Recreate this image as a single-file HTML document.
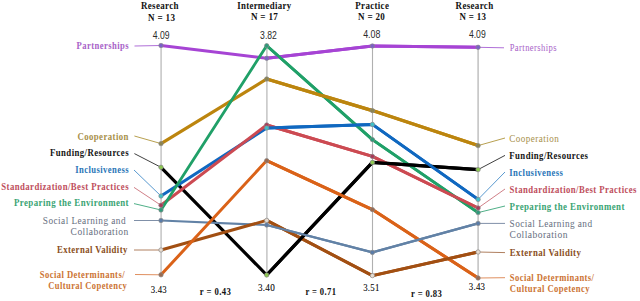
<!DOCTYPE html><html><head><meta charset="utf-8"><style>
html,body{margin:0;padding:0;background:#fff;width:640px;height:301px;overflow:hidden}
svg{display:block}
.sf{font-family:"Liberation Serif",serif}
.ss{font-family:"Liberation Sans",sans-serif}
</style></head><body>
<svg width="640" height="301" viewBox="0 0 640 301">
<rect width="640" height="301" fill="#fff"/>
<line x1="161.1" y1="45.5" x2="161.1" y2="274.8" stroke="#C4C4C4" stroke-width="1.5"/>
<line x1="266.9" y1="45.7" x2="266.9" y2="275" stroke="#C4C4C4" stroke-width="1.5"/>
<line x1="372.5" y1="46" x2="372.5" y2="275.6" stroke="#B0B0B0" stroke-width="1.1"/>
<line x1="478.1" y1="47.3" x2="478.1" y2="278" stroke="#C0C0C0" stroke-width="1.5"/>
<line x1="134.5" y1="46" x2="161" y2="45.5" stroke="#B070D8" stroke-width="1"/>
<line x1="478.1" y1="47.3" x2="504" y2="47.8" stroke="#B070D8" stroke-width="1"/>
<line x1="134.4" y1="136" x2="161" y2="143.6" stroke="#B8A050" stroke-width="1"/>
<line x1="478.1" y1="145.6" x2="505" y2="138" stroke="#B8A050" stroke-width="1"/>
<line x1="134.4" y1="153.6" x2="161" y2="167.3" stroke="#404040" stroke-width="1"/>
<line x1="478.1" y1="169.6" x2="505" y2="155.4" stroke="#404040" stroke-width="1"/>
<line x1="134" y1="187.4" x2="161" y2="205.3" stroke="#D08088" stroke-width="1"/>
<line x1="478.1" y1="208" x2="505" y2="189" stroke="#D08088" stroke-width="1"/>
<line x1="134" y1="170" x2="161" y2="196" stroke="#5A9AD0" stroke-width="1"/>
<line x1="478.1" y1="199.4" x2="505" y2="172" stroke="#5A9AD0" stroke-width="1"/>
<line x1="134" y1="203.6" x2="161" y2="210" stroke="#50B088" stroke-width="1"/>
<line x1="478.1" y1="212.6" x2="505" y2="206" stroke="#50B088" stroke-width="1"/>
<line x1="134" y1="220.5" x2="161" y2="220.5" stroke="#8090A8" stroke-width="1"/>
<line x1="478.1" y1="223.4" x2="505" y2="223.4" stroke="#8090A8" stroke-width="1"/>
<line x1="134" y1="250" x2="161" y2="250" stroke="#B08060" stroke-width="1"/>
<line x1="478.1" y1="252" x2="505" y2="252.6" stroke="#B08060" stroke-width="1"/>
<line x1="135" y1="274.5" x2="161" y2="274.8" stroke="#E09060" stroke-width="1"/>
<line x1="478.1" y1="278" x2="505" y2="277.7" stroke="#E09060" stroke-width="1"/>
<polyline points="161,45.5 266.7,58.3 372.4,46 478.1,47.3" fill="none" stroke="#A644D4" stroke-width="3" stroke-linejoin="miter" stroke-miterlimit="10"/>
<polyline points="161,143.6 266.7,79 372.4,110.6 478.1,145.6" fill="none" stroke="#BC850E" stroke-width="3.2" stroke-linejoin="miter" stroke-miterlimit="10"/>
<polyline points="161,167.3 266.7,275 372.4,162.4 478.1,169.6" fill="none" stroke="#000000" stroke-width="3.2" stroke-linejoin="miter" stroke-miterlimit="10"/>
<polyline points="161,196 266.7,128 372.4,124.4 478.1,199.4" fill="none" stroke="#1068C0" stroke-width="3" stroke-linejoin="miter" stroke-miterlimit="10"/>
<polyline points="161,205.3 266.7,125 372.4,156.4 478.1,208" fill="none" stroke="#CC4A52" stroke-width="3" stroke-linejoin="miter" stroke-miterlimit="10"/>
<polyline points="161,210 266.7,45.7 372.4,139.6 478.1,212.6" fill="none" stroke="#20A068" stroke-width="2.8" stroke-linejoin="miter" stroke-miterlimit="10"/>
<polyline points="161,220.5 266.7,225 372.4,252.4 478.1,223.4" fill="none" stroke="#6282A6" stroke-width="2.2" stroke-linejoin="miter" stroke-miterlimit="10"/>
<polyline points="161,250 266.7,220.4 372.4,275.6 478.1,252" fill="none" stroke="#A24F12" stroke-width="3" stroke-linejoin="miter" stroke-miterlimit="10"/>
<polyline points="161,274.8 266.7,160.6 372.4,209.6 478.1,278" fill="none" stroke="#DA6218" stroke-width="3" stroke-linejoin="miter" stroke-miterlimit="10"/>
<line x1="266.7" y1="58.3" x2="372.4" y2="46" stroke="#A644D4" stroke-width="3"/>
<line x1="266.7" y1="45.7" x2="372.4" y2="139.6" stroke="#20A068" stroke-width="2.8"/>
<line x1="266.7" y1="79" x2="372.4" y2="110.6" stroke="#BC850E" stroke-width="3.2"/>
<line x1="266.7" y1="125" x2="372.4" y2="156.4" stroke="#CC4A52" stroke-width="3"/>
<line x1="266.7" y1="128" x2="372.4" y2="124.4" stroke="#1068C0" stroke-width="3"/>
<line x1="266.7" y1="220.4" x2="372.4" y2="275.6" stroke="#A24F12" stroke-width="3"/>
<line x1="266.7" y1="275" x2="372.4" y2="162.4" stroke="#000000" stroke-width="3.2"/>
<line x1="266.7" y1="225" x2="372.4" y2="252.4" stroke="#6282A6" stroke-width="2.2"/>
<line x1="266.7" y1="160.6" x2="372.4" y2="209.6" stroke="#DA6218" stroke-width="3"/>
<line x1="372.4" y1="139.6" x2="478.1" y2="212.6" stroke="#20A068" stroke-width="2.8"/>
<line x1="372.4" y1="156.4" x2="478.1" y2="208" stroke="#CC4A52" stroke-width="3"/>
<line x1="372.4" y1="162.4" x2="478.1" y2="169.6" stroke="#000000" stroke-width="3.2"/>
<line x1="372.4" y1="124.4" x2="478.1" y2="199.4" stroke="#1068C0" stroke-width="3"/>
<line x1="372.4" y1="209.6" x2="478.1" y2="278" stroke="#DA6218" stroke-width="3"/>
<line x1="372.4" y1="252.4" x2="478.1" y2="223.4" stroke="#6282A6" stroke-width="2.2"/>
<line x1="372.4" y1="275.6" x2="478.1" y2="252" stroke="#A24F12" stroke-width="3"/>
<line x1="372.4" y1="110.6" x2="478.1" y2="145.6" stroke="#BC850E" stroke-width="3.2"/>
<line x1="372.4" y1="46" x2="478.1" y2="47.3" stroke="#A644D4" stroke-width="3"/>
<circle cx="161" cy="45.5" r="2.2" fill="#7B5FC8" stroke="#8a8a8a" stroke-width="0.7"/>
<circle cx="266.7" cy="58.3" r="2.2" fill="#7B5FC8" stroke="#8a8a8a" stroke-width="0.7"/>
<circle cx="372.4" cy="46" r="2.2" fill="#7B5FC8" stroke="#8a8a8a" stroke-width="0.7"/>
<circle cx="478.1" cy="47.3" r="2.2" fill="#7B5FC8" stroke="#8a8a8a" stroke-width="0.7"/>
<circle cx="161" cy="143.6" r="2.2" fill="#8C8450" stroke="#8a8a8a" stroke-width="0.7"/>
<circle cx="266.7" cy="79" r="2.2" fill="#8C8450" stroke="#8a8a8a" stroke-width="0.7"/>
<circle cx="372.4" cy="110.6" r="2.2" fill="#8C8450" stroke="#8a8a8a" stroke-width="0.7"/>
<circle cx="478.1" cy="145.6" r="2.2" fill="#8C8450" stroke="#8a8a8a" stroke-width="0.7"/>
<circle cx="161" cy="167.3" r="2.2" fill="#8CC850" stroke="#8a8a8a" stroke-width="0.7"/>
<circle cx="266.7" cy="275" r="2.2" fill="#8CC850" stroke="#8a8a8a" stroke-width="0.7"/>
<circle cx="372.4" cy="162.4" r="2.2" fill="#8CC850" stroke="#8a8a8a" stroke-width="0.7"/>
<circle cx="478.1" cy="169.6" r="2.2" fill="#8CC850" stroke="#8a8a8a" stroke-width="0.7"/>
<circle cx="161" cy="205.3" r="2.2" fill="#A83A58" stroke="#8a8a8a" stroke-width="0.7"/>
<circle cx="266.7" cy="125" r="2.2" fill="#A83A58" stroke="#8a8a8a" stroke-width="0.7"/>
<circle cx="372.4" cy="156.4" r="2.2" fill="#A83A58" stroke="#8a8a8a" stroke-width="0.7"/>
<circle cx="478.1" cy="208" r="2.2" fill="#A83A58" stroke="#8a8a8a" stroke-width="0.7"/>
<circle cx="161" cy="196" r="2.2" fill="#40C0C8" stroke="#8a8a8a" stroke-width="0.7"/>
<circle cx="266.7" cy="128" r="2.2" fill="#40C0C8" stroke="#8a8a8a" stroke-width="0.7"/>
<circle cx="372.4" cy="124.4" r="2.2" fill="#40C0C8" stroke="#8a8a8a" stroke-width="0.7"/>
<circle cx="478.1" cy="199.4" r="2.2" fill="#40C0C8" stroke="#8a8a8a" stroke-width="0.7"/>
<circle cx="161" cy="210" r="2.2" fill="#2E9A7A" stroke="#8a8a8a" stroke-width="0.7"/>
<circle cx="266.7" cy="45.7" r="2.2" fill="#2E9A7A" stroke="#8a8a8a" stroke-width="0.7"/>
<circle cx="372.4" cy="139.6" r="2.2" fill="#2E9A7A" stroke="#8a8a8a" stroke-width="0.7"/>
<circle cx="478.1" cy="212.6" r="2.2" fill="#2E9A7A" stroke="#8a8a8a" stroke-width="0.7"/>
<circle cx="161" cy="220.5" r="2.2" fill="#5A7CA8" stroke="#8a8a8a" stroke-width="0.7"/>
<circle cx="266.7" cy="225" r="2.2" fill="#5A7CA8" stroke="#8a8a8a" stroke-width="0.7"/>
<circle cx="372.4" cy="252.4" r="2.2" fill="#5A7CA8" stroke="#8a8a8a" stroke-width="0.7"/>
<circle cx="478.1" cy="223.4" r="2.2" fill="#5A7CA8" stroke="#8a8a8a" stroke-width="0.7"/>
<circle cx="161" cy="250" r="2.2" fill="#E8DCD0" stroke="#8a8a8a" stroke-width="0.7"/>
<circle cx="266.7" cy="220.4" r="2.2" fill="#E8DCD0" stroke="#8a8a8a" stroke-width="0.7"/>
<circle cx="372.4" cy="275.6" r="2.2" fill="#E8DCD0" stroke="#8a8a8a" stroke-width="0.7"/>
<circle cx="478.1" cy="252" r="2.2" fill="#E8DCD0" stroke="#8a8a8a" stroke-width="0.7"/>
<circle cx="161" cy="274.8" r="2.2" fill="#9A6A50" stroke="#8a8a8a" stroke-width="0.7"/>
<circle cx="266.7" cy="160.6" r="2.2" fill="#9A6A50" stroke="#8a8a8a" stroke-width="0.7"/>
<circle cx="372.4" cy="209.6" r="2.2" fill="#9A6A50" stroke="#8a8a8a" stroke-width="0.7"/>
<circle cx="478.1" cy="278" r="2.2" fill="#9A6A50" stroke="#8a8a8a" stroke-width="0.7"/>
<text class="sf" x="76.6" y="48.5" font-size="10.3" font-weight="bold" fill="#A862C8" text-anchor="start" letter-spacing="0.5" textLength="52.4" lengthAdjust="spacingAndGlyphs">Partnerships</text>
<text class="sf" x="77.4" y="139.5" font-size="10.3" font-weight="bold" fill="#A8904A" text-anchor="start" letter-spacing="0.5" textLength="51.5" lengthAdjust="spacingAndGlyphs">Cooperation</text>
<text class="sf" x="50" y="156.1" font-size="10.3" font-weight="bold" fill="#141414" text-anchor="start" letter-spacing="0.5" textLength="79" lengthAdjust="spacingAndGlyphs">Funding/Resources</text>
<text class="sf" x="75.3" y="172.70000000000002" font-size="10.3" font-weight="bold" fill="#2A76B8" text-anchor="start" letter-spacing="0.5" textLength="53.7" lengthAdjust="spacingAndGlyphs">Inclusiveness</text>
<text class="sf" x="1.2999999999999972" y="189.5" font-size="10.3" font-weight="bold" fill="#BE4E5C" text-anchor="start" letter-spacing="0.5" textLength="127.7" lengthAdjust="spacingAndGlyphs">Standardization/Best Practices</text>
<text class="sf" x="14" y="206.1" font-size="10.3" font-weight="bold" fill="#3AA474" text-anchor="start" letter-spacing="0.5" textLength="115" lengthAdjust="spacingAndGlyphs">Preparing the Environment</text>
<text class="sf" x="42.8" y="223.6" font-size="10.3" font-weight="normal" fill="#666E7E" text-anchor="start" letter-spacing="0.5" textLength="83.2" lengthAdjust="spacingAndGlyphs">Social Learning and</text>
<text class="sf" x="70.6" y="235.1" font-size="10.3" font-weight="normal" fill="#666E7E" text-anchor="start" letter-spacing="0.5" textLength="58.1" lengthAdjust="spacingAndGlyphs">Collaboration</text>
<text class="sf" x="57.0" y="252.8" font-size="10.3" font-weight="bold" fill="#8A4E22" text-anchor="start" letter-spacing="0.5" textLength="70.8" lengthAdjust="spacingAndGlyphs">External Validity</text>
<text class="sf" x="39.8" y="278.0" font-size="10.3" font-weight="bold" fill="#CC7434" text-anchor="start" letter-spacing="0.5" textLength="85.2" lengthAdjust="spacingAndGlyphs">Social Determinants/</text>
<text class="sf" x="48.3" y="289.2" font-size="10.3" font-weight="bold" fill="#CC7434" text-anchor="start" letter-spacing="0.5" textLength="79" lengthAdjust="spacingAndGlyphs">Cultural Copetency</text>
<text class="sf" x="509.7" y="51.2" font-size="10.3" font-weight="normal" fill="#A862C8" text-anchor="start" letter-spacing="0.5" textLength="47.3" lengthAdjust="spacingAndGlyphs">Partnerships</text>
<text class="sf" x="509.3" y="142.29999999999998" font-size="10.3" font-weight="normal" fill="#A8904A" text-anchor="start" letter-spacing="0.5" textLength="50" lengthAdjust="spacingAndGlyphs">Cooperation</text>
<text class="sf" x="509.3" y="158.6" font-size="10.3" font-weight="bold" fill="#141414" text-anchor="start" letter-spacing="0.5" textLength="79.1" lengthAdjust="spacingAndGlyphs">Funding/Resources</text>
<text class="sf" x="509.3" y="175.6" font-size="10.3" font-weight="bold" fill="#2A76B8" text-anchor="start" letter-spacing="0.5" textLength="54" lengthAdjust="spacingAndGlyphs">Inclusiveness</text>
<text class="sf" x="509.6" y="192.6" font-size="10.3" font-weight="bold" fill="#BE4E5C" text-anchor="start" letter-spacing="0.5" textLength="127.3" lengthAdjust="spacingAndGlyphs">Standardization/Best Practices</text>
<text class="sf" x="509.6" y="209.5" font-size="10.3" font-weight="bold" fill="#3AA474" text-anchor="start" letter-spacing="0.5" textLength="115.2" lengthAdjust="spacingAndGlyphs">Preparing the Environment</text>
<text class="sf" x="509.6" y="226.6" font-size="10.3" font-weight="normal" fill="#666E7E" text-anchor="start" letter-spacing="0.5" textLength="82.9" lengthAdjust="spacingAndGlyphs">Social Learning and</text>
<text class="sf" x="509.6" y="238.0" font-size="10.3" font-weight="normal" fill="#666E7E" text-anchor="start" letter-spacing="0.5" textLength="58.3" lengthAdjust="spacingAndGlyphs">Collaboration</text>
<text class="sf" x="509.8" y="255.79999999999998" font-size="10.3" font-weight="bold" fill="#8A4E22" text-anchor="start" letter-spacing="0.5" textLength="71.5" lengthAdjust="spacingAndGlyphs">External Validity</text>
<text class="sf" x="509.8" y="280.6" font-size="10.3" font-weight="bold" fill="#CC7434" text-anchor="start" letter-spacing="0.5" textLength="84.6" lengthAdjust="spacingAndGlyphs">Social Determinants/</text>
<text class="sf" x="509.8" y="292.1" font-size="10.3" font-weight="bold" fill="#CC7434" text-anchor="start" letter-spacing="0.5" textLength="80.2" lengthAdjust="spacingAndGlyphs">Cultural Copetency</text>
<text class="sf" x="141" y="9.100000000000001" font-size="10.8" font-weight="bold" fill="#111" text-anchor="start" letter-spacing="0.4" textLength="37.8" lengthAdjust="spacingAndGlyphs">Research</text>
<text class="sf" x="148" y="20.8" font-size="10.8" font-weight="bold" fill="#111" text-anchor="start" letter-spacing="0.4" textLength="27.3" lengthAdjust="spacingAndGlyphs">N = 13</text>
<text class="sf" x="237.2" y="8.700000000000001" font-size="10.8" font-weight="bold" fill="#111" text-anchor="start" letter-spacing="0.4" textLength="54.2" lengthAdjust="spacingAndGlyphs">Intermediary</text>
<text class="sf" x="250.9" y="20.1" font-size="10.8" font-weight="bold" fill="#111" text-anchor="start" letter-spacing="0.4" textLength="27.3" lengthAdjust="spacingAndGlyphs">N = 17</text>
<text class="sf" x="355.3" y="8.5" font-size="10.8" font-weight="bold" fill="#111" text-anchor="start" letter-spacing="0.4" textLength="33.9" lengthAdjust="spacingAndGlyphs">Practice</text>
<text class="sf" x="358" y="20.1" font-size="10.8" font-weight="bold" fill="#111" text-anchor="start" letter-spacing="0.4" textLength="27.2" lengthAdjust="spacingAndGlyphs">N = 20</text>
<text class="sf" x="455.6" y="8.5" font-size="10.8" font-weight="bold" fill="#111" text-anchor="start" letter-spacing="0.4" textLength="37.9" lengthAdjust="spacingAndGlyphs">Research</text>
<text class="sf" x="459.4" y="20.1" font-size="10.8" font-weight="bold" fill="#111" text-anchor="start" letter-spacing="0.4" textLength="26.8" lengthAdjust="spacingAndGlyphs">N = 13</text>
<text class="ss" x="152.8" y="38.6" font-size="10.4" font-weight="normal" fill="#2a2a2a" text-anchor="start" letter-spacing="0" textLength="16.8" lengthAdjust="spacingAndGlyphs">4.09</text>
<text class="ss" x="260.1" y="38.6" font-size="10.4" font-weight="normal" fill="#2a2a2a" text-anchor="start" letter-spacing="0" textLength="16.8" lengthAdjust="spacingAndGlyphs">3.82</text>
<text class="ss" x="363.2" y="37.7" font-size="10.4" font-weight="normal" fill="#2a2a2a" text-anchor="start" letter-spacing="0" textLength="17.2" lengthAdjust="spacingAndGlyphs">4.08</text>
<text class="ss" x="468.9" y="37.7" font-size="10.4" font-weight="normal" fill="#2a2a2a" text-anchor="start" letter-spacing="0" textLength="16.8" lengthAdjust="spacingAndGlyphs">4.09</text>
<text stroke="#000" stroke-width="0.08" class="sf" x="150.7" y="292.8" font-size="10.8" font-weight="normal" fill="#000" text-anchor="start" letter-spacing="0.3" textLength="16.3" lengthAdjust="spacingAndGlyphs">3.43</text>
<text stroke="#000" stroke-width="0.08" class="sf" x="258" y="291" font-size="10.8" font-weight="normal" fill="#000" text-anchor="start" letter-spacing="0.3" textLength="17" lengthAdjust="spacingAndGlyphs">3.40</text>
<text stroke="#000" stroke-width="0.08" class="sf" x="363.2" y="291.2" font-size="10.8" font-weight="normal" fill="#000" text-anchor="start" letter-spacing="0.3" textLength="16.4" lengthAdjust="spacingAndGlyphs">3.51</text>
<text stroke="#000" stroke-width="0.08" class="sf" x="468.8" y="289.8" font-size="10.8" font-weight="normal" fill="#000" text-anchor="start" letter-spacing="0.3" textLength="16.5" lengthAdjust="spacingAndGlyphs">3.43</text>
<text class="sf" x="199.8" y="294.7" font-size="11" font-weight="bold" fill="#111" text-anchor="start" letter-spacing="0.5" textLength="31.4" lengthAdjust="spacingAndGlyphs">r = 0.43</text>
<text class="sf" x="305.5" y="294.7" font-size="11" font-weight="bold" fill="#111" text-anchor="start" letter-spacing="0.5" textLength="30.9" lengthAdjust="spacingAndGlyphs">r = 0.71</text>
<text class="sf" x="411" y="296.5" font-size="11" font-weight="bold" fill="#111" text-anchor="start" letter-spacing="0.5" textLength="31.2" lengthAdjust="spacingAndGlyphs">r = 0.83</text>
</svg></body></html>
